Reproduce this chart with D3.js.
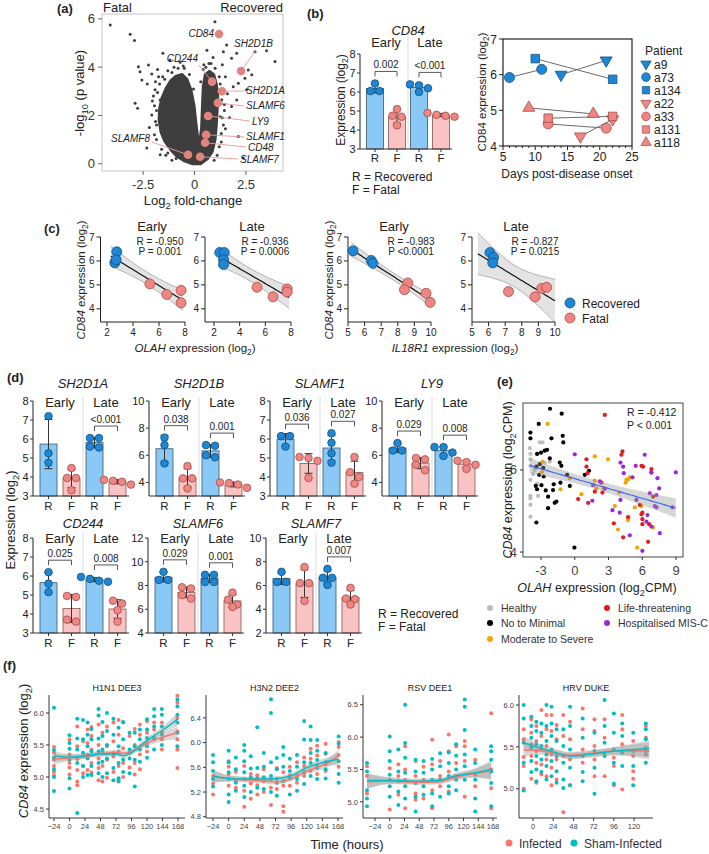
<!DOCTYPE html>
<html><head><meta charset="utf-8">
<script src="https://cdnjs.cloudflare.com/ajax/libs/d3/7.8.5/d3.min.js"></script>
<style>
body{margin:0;background:#fff}
svg text{font-family:"Liberation Sans",Arial,Helvetica,sans-serif}
</style></head><body>
<svg id="fig" width="709" height="854"></svg>
<script>
// ---------------- data ----------------
// (a) volcano: outline of the dense cloud + scattered points
const volCloud = [[-0.1,-0.02],[-0.5,0.1],[-0.85,0.28],[-1.15,0.55],[-1.45,0.9],[-1.65,1.3],[-1.75,1.8],[-1.72,2.3],[-1.6,2.75],[-1.42,3.1],[-1.18,3.45],[-0.9,3.65],[-0.6,3.72],[-0.35,3.5],[-0.15,3.05],[0.0,2.4],[0.1,1.6],[0.22,0.8],[0.32,1.5],[0.36,2.4],[0.4,3.2],[0.5,3.7],[0.72,3.85],[0.95,3.7],[1.08,3.3],[1.15,2.8],[1.12,2.2],[1.08,1.6],[1.02,1.0],[0.88,0.5],[0.65,0.2],[0.3,-0.02]];
const volPts = [[-4.1,5.74],[-3.13,5.36],[-2.92,5.1],[-1.54,4.57],[-2.73,4.02],[-2.24,4.09],[-2.65,3.81],[-2.08,3.72],[-2.56,3.47],[-2.3,3.3],[-2.89,2.51],[-2.77,2.3],[-2.08,2.02],[-1.67,2.64],[-1.92,3.06],[-2.32,0.65],[-1.67,0.37],[-1.9,3.4],[-2.0,2.8],[-1.85,2.2],[-2.2,1.5],[-1.95,1.2],[-1.4,0.35],[-1.1,0.15],[-1.55,3.6],[-1.3,3.85],[-1.0,4.0],[-0.7,4.2],[-0.5,3.95],[-1.8,3.9],[-1.2,4.3],[-1.85,1.6],[-1.6,0.6],
  [-1.85,1.0],[-1.9,1.75],[-1.95,2.4],[-1.8,2.95],[-1.7,3.3],[-1.45,3.5],[-1.1,3.78],[-0.8,3.95],[-0.55,4.05],[-1.3,0.45],[-0.9,0.22],[-2.05,2.6],[-1.75,3.6],[-0.25,3.7],[-0.05,3.1],
  [1.24,6.36],[0.99,5.88],[1.56,4.92],[2.05,4.57],[1.8,4.37],[1.4,4.64],[2.94,4.64],[3.5,4.68],[3.91,4.23],[2.61,3.88],[2.78,3.68],[2.45,3.54],[2.13,3.33],[1.88,3.19],[2.53,3.06],[1.8,2.37],[2.05,2.64],[2.13,1.13],[2.37,0.24],[1.5,3.6],[1.35,4.1],[0.9,4.4],[0.6,4.7],[0.7,4.15],[1.6,2.9],[1.45,2.2],[1.4,1.6],[1.3,0.9],[1.1,0.35],[1.7,1.9],[1.25,3.3],[0.45,4.1],[1.3,2.5],[1.25,1.95],
  [1.3,1.25],[1.35,1.9],[1.32,2.65],[1.35,3.05],[1.2,3.6],[1.0,3.95],[0.8,4.15],[0.55,4.0],[1.2,0.7],[0.95,0.15],[1.45,2.45],[1.5,1.45],[0.42,3.9],[0.3,3.4]];
const slamGenes = ["CD84","SH2D1B","CD244","SH2D1A","SLAMF6","LY9","SLAMF1","CD48","SLAMF7","SLAMF8"];
const slamFC = [1.19,2.26,0.85,1.33,1.14,0.66,0.56,0.51,0.27,-0.32];
const slamLogP = [5.37,3.84,3.4,3.0,2.52,1.98,1.2,0.87,0.29,0.37];

// (b) CD84 bars: R early, F early, R late, F late
const barCats = ["R","F","R","F"];
const cd84Vals = [[6.45,6.05,6.05],[5.1,4.7,4.75,4.25],[6.4,6.35,6.2,6.0],[4.9,4.8,4.75,4.7]];
const cd84Pv = ["0.002","<0.001"];

// (b) patient trajectories
const patients = ["a9","a73","a134","a22","a33","a131","a118"];
const patientGroup = ["R","R","R","F","F","F","F"];
const patientSym = ["down","circle","square","down","circle","square","up"];
const patientDays = [[14,21],[6,11],[10,22],[17,22],[12,21],[12,22],[9,19]];
const patientCD84 = [[6.0,6.4],[5.92,6.15],[6.45,5.87],[4.27,4.75],[4.62,4.5],[4.78,4.83],[5.07,4.9]];

// (c) correlations [x, CD84]
const olahEarlyR = [[2.75,6.38],[2.6,5.92],[2.7,6.05]];
const olahEarlyF = [[5.3,5.04],[6.6,4.6],[7.7,4.77],[7.7,4.25]];
const olahLateR = [[2.45,6.35],[2.8,6.35],[2.75,6.05],[2.75,5.85]];
const olahLateF = [[5.35,4.9],[6.6,4.5],[7.7,4.83],[7.7,4.7]];
const il18EarlyR = [[5.3,6.42],[6.4,6.02],[6.5,5.9]];
const il18EarlyF = [[8.6,5.08],[8.4,4.8],[9.7,4.65],[9.95,4.27]];
const il18LateR = [[6.08,6.35],[6.3,6.15],[6.25,5.92]];
const il18LateF = [[7.2,4.72],[8.8,4.5],[9.2,4.85],[9.5,4.9]];
const corrStats = [["R = -0.950","P = 0.001"],["R = -0.936","P = 0.0006"],["R = -0.983","P <0.0001"],["R = -0.827","P = 0.0215"]];

// (d) SLAM family bars
const sh2d1aVals = [[7.2,5.25,4.75],[4.47,3.95,3.95,3.3],[6.05,6.05,5.6,5.55],[3.85,3.8,3.75,3.6]];
const sh2d1bVals = [[7.3,6.75,5.4],[5.2,4.3,4.3,3.55],[6.7,6.75,6.0,5.85],[4.0,3.95,3.85,3.6]];
const slamf1Vals = [[6.15,6.15,5.6],[5.05,5.0,4.85,3.95],[6.3,5.8,5.25,4.75],[5.05,4.25,4.0,3.65]];
const ly9Vals = [[6.9,6.35,6.35],[5.8,5.7,5.3,4.9],[6.6,6.6,6.2,5.95],[5.6,5.5,5.3,5.0]];
const cd244Vals = [[6.2,5.6,5.15],[4.95,4.9,3.7,3.6],[5.95,5.85,5.75,5.7],[4.7,4.55,4.2,3.6]];
const slamf6Vals = [[9.15,8.47,8.47],[7.85,7.75,7.2,6.9],[8.9,8.9,8.3,8.3],[7.4,6.8,6.4,6.2]];
const slamf7Vals = [[7.15,6.3,6.3],[7.55,6.2,6.2,4.7],[7.4,6.65,6.65,6.05],[5.8,4.9,4.85,4.4]];
const dPvals = [["","<0.001"],["0.038","0.001"],["0.036","0.027"],["0.029","0.008"],["0.025","0.008"],["0.029","0.001"],["","0.007"]];

// (e) COVID cohort [OLAH, CD84]
const eHealthy = [[-4.0,6.53],[-3.94,6.39],[-3.94,6.26],[-3.11,6.67],[-2.87,6.67],[-2.22,6.2],[-3.94,5.76],[-3.94,5.37],[-3.94,5.31],[-3.94,5.15],[-3.94,4.86],[-3.35,5.66],[-3.26,5.37],[-2.67,6.18],[-3.56,6.0],[-3.94,6.1],[-3.7,5.9]];
const eMinimal = [[-2.2,7.49],[-1.16,7.37],[-3.2,7.12],[-3.94,6.91],[-3.94,6.77],[-3.35,6.39],[-2.67,6.47],[-2.46,6.49],[-2.07,6.77],[-3.41,6.08],[-3.11,6.14],[-3.35,5.53],[-3.47,5.61],[-3.17,5.88],[-2.96,5.63],[-2.58,5.5],[-2.37,5.35],[-2.37,5.07],[-2.76,5.84],[-1.78,5.2],[-1.63,5.23],[-1.93,5.51],[-2.22,6.28],[-1.33,6.18],[-1.19,6.1],[-1.07,6.83],[-1.02,6.67],[-1.27,5.69],[-0.44,5.61],[-0.68,5.88],[0.89,5.88],[1.27,5.98],[-0.03,4.11],[-3.41,4.72],[-1.87,5.65],[-3.0,6.42],[-2.8,6.05]];
const eModerate = [[-2.42,7.12],[-2.87,6.2],[-1.27,5.53],[-0.44,5.8],[0.59,5.41],[1.78,6.33],[2.96,6.26],[1.78,5.74],[1.93,5.55],[2.58,5.55],[3.56,5.12],[3.94,5.45],[4.59,5.76],[4.53,5.69],[4.74,5.77],[4.89,5.82],[5.33,5.09],[4.74,4.78],[3.85,4.55],[5.54,4.11],[6.96,4.6],[5.93,5.12],[-2.9,5.95]];
const eLife = [[2.67,7.34],[4.24,6.45],[4.15,6.37],[1.04,6.26],[1.04,6.08],[1.13,5.92],[0.3,5.29],[1.19,5.2],[1.78,5.47],[2.46,5.45],[2.37,5.69],[3.47,4.7],[4.3,4.36],[4.74,4.85],[5.93,6.1],[6.07,6.08],[6.81,6.02],[6.81,5.94],[6.01,4.96],[5.93,4.92],[6.01,4.8],[6.01,4.68],[6.61,4.68],[6.52,4.25],[6.96,5.35],[5.78,5.15]];
const eMisc = [[0,6.38],[1.63,5.63],[1.56,5.25],[2.22,5.72],[2.67,5.54],[3.35,5.02],[4.06,6.18],[4.3,6.08],[4.36,5.92],[4.06,5.27],[4.0,4.96],[4.89,4.41],[5.13,5.82],[5.42,6.1],[6.22,6.37],[6.81,5.94],[7.35,5.8],[7.5,5.55],[6.67,5.43],[7.26,5.39],[7.26,5.09],[7.11,5.12],[6.37,4.74],[6.81,4.62],[6.01,4.03],[7.56,4.46],[8.98,5.94],[8.68,5.09],[5.48,5.27],[6.46,4.9]];
const eGroups = ["Healthy","No to Minimal","Moderate to Severe","Life-threatening","Hospitalised MIS-C"];

// (f) challenge studies: hours, values per time point
const h1n1Times = [-24,0,12,21,28,34,45,51,58,68,76,83,93,101,109,120,131,143,167];
const h1n1Sham = [[6.08,5.42,5.3,5.12,5.0,4.78],[5.65,5.53,5.44,5.27,4.98,4.82],[5.91,5.6,5.43,5.22,4.44],[5.89,5.59,5.38,5.17,5.0],[5.85,5.66,5.48,5.29,5.03],[5.75,5.59,5.4,5.17,5.03],[6.06,5.96,5.6,5.4,5.22,5.06],[5.86,5.64,5.43,5.24,5.0],[6.0,5.72,5.5,5.29,5.06],[5.91,5.66,5.37,5.14,4.95],[5.77,5.48,5.22,4.98,4.93],[5.86,5.59,5.27,5.08],[5.69,5.43,5.29,5.06],[5.69,5.48,5.27,4.85],[5.74,5.59,5.43,5.24],[5.9,5.74,5.61,5.48,5.3],[6.06,5.95,5.79,5.61,5.43],[6.06,5.97,5.79,5.66,5.5],[6.21,6.1,5.97,5.85,5.69,5.48]];
const h1n1Inf = [[5.47,5.38,5.27,5.17,5.08,5.02],[5.58,5.35,5.22,5.15,5.04],[5.79,5.48,5.28,5.11,4.93,4.87],[5.56,5.33,5.17,5.06],[5.74,5.53,5.35,5.11],[5.78,5.64,5.43,5.22,5.07],[5.82,5.5,5.29,5.14,4.95],[5.69,5.4,5.17,4.93],[5.79,5.48,5.27,4.99],[5.85,5.56,5.32,5.08],[5.89,5.66,5.4,5.17,4.95],[5.85,5.45,5.22,5.0],[5.64,5.38,5.15],[5.75,5.5,5.22,5.04],[5.82,5.66,5.35,5.12],[5.87,5.69,5.53,5.4],[5.85,5.74,5.59],[5.85,5.7,5.59,5.43],[6.27,6.16,5.92,5.71,5.59,5.43,5.14]];
const h1n1ShamFit = [[-24,5.33,0.08],[0,5.31,0.05],[24,5.33,0.04],[48,5.36,0.04],[72,5.36,0.04],[84,5.33,0.04],[96,5.38,0.04],[120,5.57,0.05],[144,5.73,0.06],[167,5.9,0.1]];
const h1n1InfFit = [[-24,5.28,0.08],[0,5.3,0.05],[24,5.32,0.04],[48,5.36,0.04],[72,5.38,0.04],[84,5.37,0.04],[96,5.4,0.04],[120,5.53,0.05],[144,5.62,0.06],[167,5.69,0.1]];

const h3n2Times = [-24,0,11,24,34,44,54,65,74,84,94,105,116,126,136,149,169];
const h3n2Sham = [[5.8,5.68,5.54,5.41,5.29],[5.87,5.68,5.52,5.41,5.16,5.04],[5.76,5.57,5.35,5.22],[5.96,5.87,5.7,5.52,5.3,5.12],[5.78,5.58,5.44,5.2],[6.25,5.59,5.42,5.27],[5.83,5.61,5.44,5.25],[6.7,6.48,5.68,5.46,5.2],[5.75,5.57,5.35,5.14],[5.93,5.8,5.61,5.38],[5.74,5.54,5.42,5.16],[5.8,5.61,5.41,5.22],[6.35,6.05,5.68,5.52,5.33],[6.26,6.04,5.83,5.67,5.46],[6.04,5.87,5.72,5.59,5.41],[5.83,5.68,5.57,5.42],[6.1,5.98,5.7,5.49,5.35]];
const h3n2Inf = [[5.46,5.34,5.16],[5.7,5.61,5.49,5.3],[5.53,5.38,5.27],[5.62,5.41,5.22,4.96],[5.49,5.34,5.09],[5.47,5.31,5.16],[5.57,5.38,5.2],[5.41,5.27,4.99],[5.59,5.41,5.25],[5.52,5.3,4.97,4.88],[5.61,5.47,5.3],[5.68,5.46,5.35],[5.76,5.62,5.46],[5.9,5.74,5.54],[5.95,5.79,5.62,5.49],[5.98,5.82,5.65,5.54],[6.01,5.93,5.8,5.61]];
const h3n2ShamFit = [[-24,5.46,0.1],[0,5.42,0.05],[24,5.41,0.04],[49,5.41,0.04],[75,5.42,0.04],[95,5.46,0.04],[121,5.6,0.05],[149,5.69,0.06],[169,5.73,0.1]];
const h3n2InfFit = [[-24,5.45,0.1],[0,5.42,0.05],[24,5.4,0.04],[49,5.38,0.04],[75,5.36,0.04],[95,5.41,0.04],[121,5.54,0.05],[149,5.65,0.06],[169,5.79,0.1]];

const rsvTimes = [-37,0,14,25,42,55,69,82,96,108,122,139,165];
const rsvSham = [[5.6,5.47,5.18,5.05,4.93],[6.01,5.78,5.63,5.42,5.24,5.08],[5.81,5.47,5.32,5.16,4.95],[6.5,5.91,5.68,5.45,5.24,5.05],[5.65,5.47,5.29,5.08,4.85],[5.63,5.45,5.24,5.11],[5.66,5.5,5.34,5.13,4.93],[5.75,5.55,5.34,5.08],[5.76,5.6,5.4,5.24,5.13],[5.89,5.71,5.5,5.34,5.18],[6.58,6.47,6.11,5.73,5.55,5.34],[5.81,5.6,5.34,5.05,4.85],[5.86,5.78,5.65,5.47,5.29,4.93]];
const rsvInf = [[5.55,5.4,5.13],[5.52,5.34,4.88],[5.58,5.4,5.11],[5.86,5.5,5.34,4.9],[5.63,5.4,5.13,5.03],[5.54,5.34,5.05],[5.96,5.58,5.18,4.9],[5.63,5.4,5.24],[6.04,5.78,5.47,5.16],[5.86,5.6,5.4],[5.94,5.86,5.63,5.08],[5.65,5.42,5.24],[6.37,5.5,5.21,4.9]];
const rsvShamFit = [[-37,5.33,0.12],[0,5.33,0.05],[42,5.32,0.04],[80,5.33,0.04],[107,5.4,0.05],[139,5.45,0.07],[165,5.5,0.14]];
const rsvInfFit = [[-37,5.31,0.12],[0,5.32,0.05],[42,5.3,0.04],[80,5.31,0.04],[107,5.38,0.05],[139,5.44,0.07],[165,5.47,0.14]];

const hrvTimes = [-11,-2,4,10,16,22,28,36,44,59,73,85,96,106,119,134];
const hrvSham = [[6.0,5.84,5.55,5.31,4.98],[5.86,5.75,5.61,5.49,5.33,5.2],[5.8,5.69,5.53,5.39,5.23,5.09],[5.78,5.67,5.51,5.35,5.2],[6.0,5.75,5.57,5.41,5.27,5.11],[5.98,5.78,5.63,5.47,5.33,5.15],[5.71,5.57,5.39,5.21,5.07],[5.71,5.51,5.31,5.11,5.01],[5.98,5.75,5.47,5.25,5.04],[5.84,5.61,5.39,5.2,5.09],[5.67,5.45,5.25,4.94],[6.06,5.75,5.55,5.39],[5.9,5.67,5.47,5.31,5.06],[5.78,5.63,5.43,5.27],[5.67,5.45,5.27,5.04],[5.78,5.71,5.59,5.45,5.31]];
const hrvInf = [[5.71,5.59,5.38,5.27,5.0],[5.83,5.67,5.53,5.39,5.12],[5.75,5.57,5.45,5.31,5.07],[5.94,5.63,5.47,5.29,5.17],[5.88,5.71,5.51,5.35,5.15],[5.88,5.69,5.41,5.25,5.04],[5.76,5.59,5.35,5.11],[5.88,5.63,5.39,4.72],[5.8,5.59,5.35,5.04],[5.96,5.71,5.47,5.31],[5.83,5.69,5.51,5.35,5.15],[5.83,5.61,5.43,5.15],[5.37,5.27,5.04],[5.88,5.71,5.53,4.99],[5.57,5.39,5.21,5.12],[5.75,5.61,5.49,5.41]];
const hrvShamFit = [[-11,5.55,0.08],[4,5.5,0.05],[24,5.44,0.04],[44,5.39,0.04],[67,5.41,0.04],[98,5.45,0.05],[138,5.48,0.1]];
const hrvInfFit = [[-11,5.46,0.08],[4,5.46,0.05],[24,5.43,0.04],[44,5.4,0.04],[67,5.42,0.04],[98,5.45,0.05],[138,5.45,0.1]];

// ---------------- colours ----------------
const C = {
  dot: "#3e3e3e", hi: "#e3837d", lead: "#e59a94",
  blue: "#1c87d6", blueS: "#174f7c", red: "#ef8682", redS: "#a44c4c",
  barB: "#8ac9f5", barBS: "#48667f", barR: "#f8c3c2", barRS: "#946464",
  inf: "#F8766D", sham: "#00BFC4"
};
const eCols = ["#bdbdbd","#000000","#f5a300","#e41a1c","#9b28d6"];

const svg = d3.select("#fig");
svg.append("rect").attr("width", 709).attr("height", 854).attr("fill", "#fff");

// text with italic / subscript parts
function txt(g, x, y, parts, o = {}) {
  const size = o.size || 12;
  const t = g.append("text").attr("x", x).attr("y", y).attr("font-size", size)
    .attr("text-anchor", o.anchor || "start").attr("fill", o.fill || "#222");
  if (o.bold) t.attr("font-weight", "bold");
  if (o.rot) t.attr("transform", `rotate(-90,${x},${y})`);
  if (typeof parts === "string") parts = [[parts]];
  let sub = false;
  parts.forEach(([s, k]) => {
    const ts = t.append("tspan").text(s);
    if (k === "i") ts.attr("font-style", "italic");
    if (k === "sub") { ts.attr("font-size", size * 0.72).attr("dy", size * 0.28); sub = true; }
    else if (sub) { ts.attr("dy", -size * 0.28); sub = false; }
  });
  return t;
}
const log2 = (pre, preK) => [[pre, preK], [" expression (log"], ["2", "sub"], [")"]];

// panel letters
[["(a)",57,13],["(b)",307,18],["(c)",44,233],["(d)",7,382],["(e)",497,386],["(f)",3,670]]
  .forEach(([s, x, y]) => txt(svg, x, y, s, { size: 13, bold: true }));

// ================= (a) volcano =================
{
  const g = svg.append("g");
  const x = d3.scaleLinear().domain([-4.5, 4.3]).range([102, 283]);
  const y = d3.scaleLinear().domain([-0.3, 6.2]).range([171, 14]);
  g.append("clipPath").attr("id", "vclip").append("rect").attr("x", 102).attr("y", 14).attr("width", 181).attr("height", 157);
  const inner = g.append("g").attr("clip-path", "url(#vclip)");
  inner.append("path").datum(volCloud)
    .attr("d", d3.line().x(d => x(d[0])).y(d => y(d[1])).curve(d3.curveLinearClosed))
    .attr("fill", C.dot).attr("stroke", C.dot).attr("stroke-width", 2).attr("stroke-linejoin", "round");
  inner.selectAll(".vp").data(volPts).join("circle")
    .attr("cx", d => x(d[0])).attr("cy", d => y(d[1])).attr("r", 1.5).attr("fill", C.dot);
  g.append("rect").attr("x", 102).attr("y", 14).attr("width", 181).attr("height", 157)
    .attr("fill", "none").attr("stroke", "#c4c4c4");
  [0, 2, 4, 6].forEach(v => {
    g.append("line").attr("x1", 98).attr("x2", 102).attr("y1", y(v)).attr("y2", y(v)).attr("stroke", "#666");
    txt(g, 95, y(v) + 4.5, String(v), { size: 13, anchor: "end", fill: "#333" });
  });
  [-2.5, 0, 2.5].forEach(v => {
    g.append("line").attr("x1", x(v)).attr("x2", x(v)).attr("y1", 171).attr("y2", 175).attr("stroke", "#666");
    txt(g, x(v), 189, String(v), { size: 13, anchor: "middle", fill: "#333" });
  });
  txt(g, 103, 12, "Fatal", { size: 13 });
  txt(g, 283, 12, "Recovered", { size: 13, anchor: "end" });
  txt(g, 84, 93, [["-log"], ["10", "sub"], [" (p value)"]], { size: 13, anchor: "middle", rot: true });
  txt(g, 193, 205, [["Log"], ["2", "sub"], [" fold-change"]], { size: 13, anchor: "middle" });
  // label placement: [textX, baseline, anchor, leaderX, leaderY]
  const labPos = [[214,37,"end",null,null],[234,47,"start",256,50],[198,62,"end",199,65],[246,94,"start",244,91],
    [246,109,"start",244,106],[252,125,"start",250,121],[246,140,"start",244,137],[248,151,"start",246,147],
    [240,163,"start",238,159],[150,142,"end",152,142]];
  slamGenes.forEach((gname, i) => {
    const p = labPos[i];
    if (p[3] !== null) g.append("line").attr("x1", p[3]).attr("y1", p[4])
      .attr("x2", x(slamFC[i])).attr("y2", y(slamLogP[i])).attr("stroke", C.lead).attr("stroke-width", 0.9);
  });
  slamGenes.forEach((gname, i) => {
    g.append("circle").attr("cx", x(slamFC[i])).attr("cy", y(slamLogP[i])).attr("r", 4.3).attr("fill", C.hi);
    const p = labPos[i];
    txt(g, p[0], p[1], [[gname, "i"]], { size: 10, anchor: p[2] });
  });
}

// ================= bar chart helper (b, d) =================
function spread(vals, y, c) {
  const pts = vals.map(v => ({ v, py: y(v) })).sort((a, b) => a.py - b.py);
  const clusters = [];
  pts.forEach(p => {
    const last = clusters[clusters.length - 1];
    if (last && Math.abs(last[0].py - p.py) < 5.5) last.push(p); else clusters.push([p]);
  });
  const out = [];
  clusters.forEach(cl => cl.forEach((p, i) => out.push([c + (i - (cl.length - 1) / 2) * 9, p.py])));
  return out;
}
function barChart(o) {
  const g = svg.append("g");
  const y = d3.scaleLinear().domain(o.dom).range([o.bot, o.top]);
  const x = d3.scalePoint().domain([0, 1, 2, 3]).range([o.ax + 4, o.ax + o.w + 4]).padding(0.5);
  const sep = (x(1) + x(2)) / 2;
  g.append("line").attr("x1", sep).attr("x2", sep).attr("y1", o.elY - 10).attr("y2", o.bot).attr("stroke", "#dcdcdc");
  o.vals.forEach((vals, i) => {
    const m = d3.mean(vals), sd = d3.deviation(vals), c = x(i), isR = i % 2 === 0;
    g.append("rect").attr("x", c - 8.5).attr("width", 17).attr("y", y(m)).attr("height", o.bot - y(m))
      .attr("fill", isR ? C.barB : C.barR).attr("stroke", isR ? C.barBS : C.barRS).attr("stroke-width", 0.9);
    g.append("line").attr("x1", c).attr("x2", c).attr("y1", y(m - sd)).attr("y2", y(m + sd)).attr("stroke", "#333");
    [m - sd, m + sd].forEach(v => g.append("line").attr("x1", c - 4).attr("x2", c + 4).attr("y1", y(v)).attr("y2", y(v)).attr("stroke", "#333"));
    spread(vals, y, c).forEach(([cx, cy]) => g.append("circle").attr("cx", cx).attr("cy", cy).attr("r", 3.8)
      .attr("fill", isR ? C.blue : C.red).attr("stroke", isR ? C.blueS : C.redS).attr("stroke-width", 0.8));
    g.append("line").attr("x1", c).attr("x2", c).attr("y1", o.bot).attr("y2", o.bot + 3).attr("stroke", "#333");
    txt(g, c, o.rfY, barCats[i], { size: 11.5, anchor: "middle" });
  });
  // significance brackets
  [0, 1].forEach(k => {
    if (!o.pv[k]) return;
    const a = o.vals[2 * k], b = o.vals[2 * k + 1];
    const tops = [a, b].map(v => Math.min(y(d3.max(v)) - 4, y(d3.mean(v) + d3.deviation(v))));
    const yb = Math.min(...tops) - 8;
    g.append("path").attr("d", `M${x(2 * k)},${yb + 5}V${yb}H${x(2 * k + 1)}V${yb + 5}`)
      .attr("fill", "none").attr("stroke", "#444").attr("stroke-width", 0.9);
    txt(g, (x(2 * k) + x(2 * k + 1)) / 2, yb - 3, o.pv[k], { size: 10, anchor: "middle" });
  });
  // axes
  g.append("line").attr("x1", o.ax).attr("x2", o.ax).attr("y1", o.top).attr("y2", o.bot).attr("stroke", "#333").attr("stroke-width", 1.1);
  g.append("line").attr("x1", o.ax).attr("x2", o.ax + o.w + 4).attr("y1", o.bot).attr("y2", o.bot).attr("stroke", "#333").attr("stroke-width", 1.1);
  o.ticks.forEach(v => {
    g.append("line").attr("x1", o.ax - 3).attr("x2", o.ax).attr("y1", y(v)).attr("y2", y(v)).attr("stroke", "#333");
    txt(g, o.ax - 4.5, y(v) + 4, String(v), { size: 11, anchor: "end" });
  });
  txt(g, (x(0) + x(3)) / 2, o.titleY, [[o.title, "i"]], { size: 13, anchor: "middle" });
  txt(g, (x(0) + x(1)) / 2, o.elY, "Early", { size: 13, anchor: "middle" });
  txt(g, (x(2) + x(3)) / 2, o.elY, "Late", { size: 13, anchor: "middle" });
}

// ================= (b) =================
barChart({ vals: cd84Vals, pv: cd84Pv, title: "CD84", ax: 360, w: 88, top: 54, bot: 149, dom: [3, 8],
  ticks: [3, 4, 5, 6, 7, 8], titleY: 35, elY: 47, rfY: 162 });
txt(svg, 345, 100, [["Expression (log"], ["2", "sub"], [")"]], { size: 12, anchor: "middle", rot: true });
txt(svg, 352, 181, "R = Recovered", { size: 12 });
txt(svg, 352, 194, "F = Fatal", { size: 12 });

{
  const g = svg.append("g");
  const x = d3.scaleLinear().domain([5, 25]).range([503, 632]);
  const y = d3.scaleLinear().domain([4, 7]).range([146, 39]);
  const typeOf = s => s === "circle" ? d3.symbolCircle : s === "square" ? d3.symbolSquare : d3.symbolTriangle;
  const sizeOf = s => s === "square" ? 72 : s === "circle" ? 78 : 62;
  const rotOf = s => s === "down" ? " rotate(180)" : "";
  patients.forEach((p, i) => {
    g.append("line").attr("x1", x(patientDays[i][0])).attr("y1", y(patientCD84[i][0]))
      .attr("x2", x(patientDays[i][1])).attr("y2", y(patientCD84[i][1])).attr("stroke", "#6b6b6b").attr("stroke-width", 1);
  });
  patients.forEach((p, i) => {
    const isR = patientGroup[i] === "R", s = patientSym[i];
    [0, 1].forEach(k => g.append("path").attr("d", d3.symbol().type(typeOf(s)).size(sizeOf(s))())
      .attr("transform", `translate(${x(patientDays[i][k])},${y(patientCD84[i][k])})${rotOf(s)}`)
      .attr("fill", isR ? C.blue : C.red).attr("stroke", isR ? C.blueS : C.redS).attr("stroke-width", 0.8));
    const ly = 64 + i * 13.1;
    g.append("path").attr("d", d3.symbol().type(typeOf(s)).size(sizeOf(s) * 0.75)())
      .attr("transform", `translate(646,${ly})${rotOf(s)}`)
      .attr("fill", isR ? C.blue : C.red).attr("stroke", isR ? C.blueS : C.redS).attr("stroke-width", 0.7);
    txt(g, 654, ly + 4.5, p, { size: 12 });
  });
  txt(g, 645, 55, "Patient", { size: 12 });
  g.append("rect").attr("x", 503).attr("y", 39).attr("width", 129).attr("height", 107)
    .attr("fill", "none").attr("stroke", "#222").attr("stroke-width", 1.2);
  d3.range(5, 26).forEach(v => g.append("line").attr("x1", x(v)).attr("x2", x(v)).attr("y1", 146)
    .attr("y2", v % 5 === 0 ? 150 : 148).attr("stroke", "#222"));
  [5, 10, 15, 20, 25].forEach(v => txt(g, x(v), 161, String(v), { size: 12, anchor: "middle" }));
  [4, 5, 6, 7].forEach(v => {
    g.append("line").attr("x1", 499).attr("x2", 503).attr("y1", y(v)).attr("y2", y(v)).attr("stroke", "#222");
    txt(g, 497, y(v) + 4.5, String(v), { size: 12, anchor: "end" });
  });
  txt(g, 486, 92, [["CD84"], [" expression (log"], ["2", "sub"], [")"]], { size: 11.5, anchor: "middle", rot: true });
  txt(g, 567, 178, "Days post-disease onset", { size: 12, anchor: "middle" });
}

// ================= (c) =================
function regress(pts) {
  const n = pts.length, mx = d3.mean(pts, d => d[0]), my = d3.mean(pts, d => d[1]);
  let sxx = 0, sxy = 0;
  pts.forEach(([a, b]) => { sxx += (a - mx) ** 2; sxy += (a - mx) * (b - my); });
  const b = sxy / sxx, a = my - b * mx;
  let sse = 0;
  pts.forEach(([u, v]) => { sse += (v - a - b * u) ** 2; });
  return { a, b, mx, sxx, n, s: Math.sqrt(sse / (n - 2)) };
}
function bandPts(f, t, x0, x1) {
  return d3.range(41).map(i => {
    const u = x0 + (x1 - x0) * i / 40, yh = f.a + f.b * u;
    const se = f.s * Math.sqrt(1 / f.n + (u - f.mx) ** 2 / f.sxx);
    return [u, yh, yh - t * se, yh + t * se];
  });
}
function corrPlot(o) {
  const g = svg.append("g");
  const x = d3.scaleLinear().domain(o.xd).range(o.xr);
  const y = d3.scaleLinear().domain([3.45, 7]).range([322, 237]);
  const all = o.R.concat(o.F), f = regress(all);
  const tq = { 5: 2.571, 6: 2.447 }[all.length - 2];
  const bd = bandPts(f, tq, o.span[0], o.span[1]);
  g.append("path").datum(bd).attr("d", d3.area().x(d => x(d[0])).y0(d => y(d[2])).y1(d => y(d[3])))
    .attr("fill", "#e3e3e3");
  [2, 3].forEach(k => g.append("path").datum(bd).attr("d", d3.line().x(d => x(d[0])).y(d => y(d[k])))
    .attr("fill", "none").attr("stroke", "#8a8a8a").attr("stroke-width", 0.6));
  g.append("path").datum(bd).attr("d", d3.line().x(d => x(d[0])).y(d => y(d[1])))
    .attr("fill", "none").attr("stroke", "#111").attr("stroke-width", 1.2);
  g.append("line").attr("x1", o.xr[0]).attr("x2", o.xr[0]).attr("y1", 237).attr("y2", 322).attr("stroke", "#222");
  g.append("line").attr("x1", o.xr[0]).attr("x2", o.xr[1]).attr("y1", 322).attr("y2", 322).attr("stroke", "#222");
  [4, 5, 6, 7].forEach(v => {
    g.append("line").attr("x1", o.xr[0] - 4).attr("x2", o.xr[0]).attr("y1", y(v)).attr("y2", y(v)).attr("stroke", "#222");
    txt(g, o.xr[0] - 6, y(v) + 3.5, String(v), { size: 10, anchor: "end" });
  });
  o.xt.forEach(v => {
    g.append("line").attr("x1", x(v)).attr("x2", x(v)).attr("y1", 322).attr("y2", 326).attr("stroke", "#222");
    txt(g, x(v), 336, String(v), { size: 10, anchor: "middle" });
  });
  [[o.R, C.blue, C.blueS], [o.F, C.red, C.redS]].forEach(([pts, fc, sc]) =>
    pts.forEach(p => g.append("circle").attr("cx", x(p[0])).attr("cy", y(p[1])).attr("r", 5)
      .attr("fill", fc).attr("stroke", sc).attr("stroke-width", 0.8)));
  txt(g, o.tx, 231, o.title, { size: 13, anchor: "middle" });
  txt(g, o.sx, 245, o.stat[0], { size: 10, anchor: "middle" });
  txt(g, o.sx, 255, o.stat[1], { size: 10, anchor: "middle" });
}
corrPlot({ R: olahEarlyR, F: olahEarlyF, xd: [1.5, 8], xr: [100.5, 185], xt: [2, 4, 6, 8], span: [2.3, 7.85], title: "Early", tx: 152, sx: 160, stat: corrStats[0] });
corrPlot({ R: olahLateR, F: olahLateF, xd: [1.3, 8], xr: [205, 291], xt: [2, 4, 6, 8], span: [2.3, 7.85], title: "Late", tx: 252, sx: 265, stat: corrStats[1] });
corrPlot({ R: il18EarlyR, F: il18EarlyF, xd: [5, 10], xr: [348, 431], xt: [5, 6, 7, 8, 9, 10], span: [5.2, 10], title: "Early", tx: 394, sx: 411, stat: corrStats[2] });
corrPlot({ R: il18LateR, F: il18LateF, xd: [5, 10], xr: [472, 555], xt: [5, 6, 7, 8, 9, 10], span: [5.35, 10], title: "Late", tx: 516, sx: 535, stat: corrStats[3] });
txt(svg, 85, 280, log2("CD84", "i"), { size: 11.5, anchor: "middle", rot: true });
txt(svg, 333, 280, log2("CD84", "i"), { size: 11.5, anchor: "middle", rot: true });
txt(svg, 195, 352, log2("OLAH", "i"), { size: 11.5, anchor: "middle" });
txt(svg, 455, 352, log2("IL18R1", "i"), { size: 11.5, anchor: "middle" });
[["Recovered", C.blue, C.blueS, 303], ["Fatal", C.red, C.redS, 318]].forEach(([s, fc, sc, yy]) => {
  svg.append("circle").attr("cx", 570).attr("cy", yy).attr("r", 5).attr("fill", fc).attr("stroke", sc).attr("stroke-width", 0.8);
  txt(svg, 582, yy + 4.5, s, { size: 12 });
});

// ================= (d) =================
const dLayout = [
  { vals: sh2d1aVals, title: "SH2D1A", ax: 33, dom: [3, 8], ticks: [3, 4, 5, 6, 7, 8], row: 0 },
  { vals: sh2d1bVals, title: "SH2D1B", ax: 149, dom: [3, 10], ticks: [4, 6, 8, 10], row: 0 },
  { vals: slamf1Vals, title: "SLAMF1", ax: 270, dom: [3, 8], ticks: [3, 4, 5, 6, 7, 8], row: 0 },
  { vals: ly9Vals, title: "LY9", ax: 382, dom: [3, 10], ticks: [4, 6, 8, 10], row: 0 },
  { vals: cd244Vals, title: "CD244", ax: 33, dom: [3, 8], ticks: [3, 4, 5, 6, 7, 8], row: 1 },
  { vals: slamf6Vals, title: "SLAMF6", ax: 148, dom: [4, 12], ticks: [4, 6, 8, 10, 12], row: 1 },
  { vals: slamf7Vals, title: "SLAMF7", ax: 266, dom: [2, 10], ticks: [2, 4, 6, 8, 10], row: 1 }
];
const dRows = [{ top: 401, bot: 496, titleY: 388, elY: 407, rfY: 510 }, { top: 538, bot: 633, titleY: 528, elY: 543, rfY: 647 }];
dLayout.forEach((d, i) => barChart(Object.assign({ pv: dPvals[i], w: 92 }, d, dRows[d.row])));
txt(svg, 15, 520, [["Expression (log"], ["2", "sub"], [")"]], { size: 13, anchor: "middle", rot: true });
txt(svg, 378, 618, "R = Recovered", { size: 12 });
txt(svg, 378, 631, "F = Fatal", { size: 12 });

// ================= (e) =================
{
  const g = svg.append("g");
  const x = d3.scaleLinear().domain([-4.6, 9.62]).range([523, 683]);
  const y = d3.scaleLinear().domain([3.88, 7.63]).range([557, 403]);
  const sets = [eHealthy, eMinimal, eModerate, eLife, eMisc];
  sets.forEach((s, k) => s.forEach(p => g.append("circle").attr("cx", x(p[0])).attr("cy", y(p[1])).attr("r", 2.1).attr("fill", eCols[k])));
  const all = sets.flat(), f = regress(all);
  const bd = bandPts(f, 1.98, d3.min(all, d => d[0]), d3.max(all, d => d[0]));
  g.append("path").datum(bd).attr("d", d3.area().x(d => x(d[0])).y0(d => y(d[2])).y1(d => y(d[3])))
    .attr("fill", "#999").attr("opacity", 0.4);
  g.append("path").datum(bd).attr("d", d3.line().x(d => x(d[0])).y(d => y(d[1])))
    .attr("fill", "none").attr("stroke", "#3366FF").attr("stroke-width", 1.1);
  g.append("rect").attr("x", 523).attr("y", 403).attr("width", 160).attr("height", 154)
    .attr("fill", "none").attr("stroke", "#333").attr("stroke-width", 0.9);
  [-3, 0, 3, 6, 9].forEach(v => {
    g.append("line").attr("x1", x(v)).attr("x2", x(v)).attr("y1", 557).attr("y2", 560).attr("stroke", "#333");
    txt(g, x(v), 575, String(v), { size: 13, anchor: "middle", fill: "#444" });
  });
  [4, 6].forEach(v => {
    g.append("line").attr("x1", 520).attr("x2", 523).attr("y1", y(v)).attr("y2", y(v)).attr("stroke", "#333");
    txt(g, 517, y(v) + 4.5, String(v), { size: 13, anchor: "end", fill: "#444" });
  });
  txt(g, 627, 416, "R = -0.412", { size: 10.5 });
  txt(g, 627, 429, "P < 0.001", { size: 10.5 });
  txt(g, 512, 480, [["CD84", "i"], [" expression (log"], ["2", "sub"], ["CPM)"]], { size: 12.5, anchor: "middle", rot: true });
  txt(g, 597, 592, [["OLAH", "i"], [" expression (log"], ["2", "sub"], ["CPM)"]], { size: 12.5, anchor: "middle" });
  const legPos = [[490, 608], [490, 623], [490, 639], [607, 608], [607, 623]];
  eGroups.forEach((s, k) => {
    g.append("circle").attr("cx", legPos[k][0]).attr("cy", legPos[k][1]).attr("r", 3).attr("fill", eCols[k]);
    txt(g, legPos[k][0] + 11, legPos[k][1] + 4, s, { size: 10.5, fill: "#333" });
  });
}

// ================= (f) =================
function timePlot(o) {
  const g = svg.append("g");
  const x = d3.scaleLinear().domain(o.xd).range(o.xr);
  const y = d3.scaleLinear().domain(o.yd).range([818, 695]);
  [[o.inf, C.inf], [o.sham, C.sham]].forEach(([cols, c]) =>
    cols.forEach((vals, i) => vals.forEach(v => g.append("circle").attr("cx", x(o.times[i])).attr("cy", y(v)).attr("r", 2).attr("fill", c))));
  [o.infFit, o.shamFit].forEach(fit => {
    g.append("path").datum(fit).attr("d", d3.area().x(d => x(d[0])).y0(d => y(d[1] - d[2])).y1(d => y(d[1] + d[2])).curve(d3.curveMonotoneX))
      .attr("fill", "#9a9a9a").attr("opacity", 0.4);
  });
  [[o.infFit, C.inf], [o.shamFit, C.sham]].forEach(([fit, c]) => {
    g.append("path").datum(fit).attr("d", d3.line().x(d => x(d[0])).y(d => y(d[1])).curve(d3.curveMonotoneX))
      .attr("fill", "none").attr("stroke", c).attr("stroke-width", 1.4);
  });
  g.append("line").attr("x1", o.xr[0]).attr("x2", o.xr[0]).attr("y1", 695).attr("y2", 818).attr("stroke", "#222").attr("stroke-width", 0.9);
  g.append("line").attr("x1", o.xr[0]).attr("x2", o.xr[1]).attr("y1", 818).attr("y2", 818).attr("stroke", "#222").attr("stroke-width", 0.9);
  o.yt.forEach(v => {
    g.append("line").attr("x1", o.xr[0] - 3).attr("x2", o.xr[0]).attr("y1", y(v)).attr("y2", y(v)).attr("stroke", "#333");
    txt(g, o.xr[0] - 5, y(v) + 2.7, v.toFixed(1), { size: 7.5, anchor: "end", fill: "#444" });
  });
  o.xt.forEach(v => {
    g.append("line").attr("x1", x(v)).attr("x2", x(v)).attr("y1", 818).attr("y2", 821).attr("stroke", "#333");
    txt(g, x(v), 829, String(v).replace("-", "\u2212"), { size: 7.5, anchor: "middle", fill: "#444" });
  });
  txt(g, (o.xr[0] + o.xr[1]) / 2, 691, o.title, { size: 9, anchor: "middle" });
}
const hTicks = [-24, 0, 24, 48, 72, 96, 120, 144, 168];
timePlot({ title: "H1N1 DEE3", times: h1n1Times, inf: h1n1Inf, sham: h1n1Sham, infFit: h1n1InfFit, shamFit: h1n1ShamFit,
  xd: [-31.7, 178.8], xr: [49, 185], yd: [4.36, 6.28], yt: [4.5, 5.0, 5.5, 6.0], xt: hTicks });
timePlot({ title: "H3N2 DEE2", times: h3n2Times, inf: h3n2Inf, sham: h3n2Sham, infFit: h3n2InfFit, shamFit: h3n2ShamFit,
  xd: [-34.8, 175.7], xr: [206, 343], yd: [4.78, 6.77], yt: [4.8, 5.2, 5.6, 6.0, 6.4], xt: hTicks });
timePlot({ title: "RSV DEE1", times: rsvTimes, inf: rsvInf, sham: rsvSham, infFit: rsvInfFit, shamFit: rsvShamFit,
  xd: [-43.5, 174.5], xr: [363, 497], yd: [4.75, 6.65], yt: [5.0, 5.5, 6.0, 6.5], xt: hTicks });
timePlot({ title: "HRV DUKE", times: hrvTimes, inf: hrvInf, sham: hrvSham, infFit: hrvInfFit, shamFit: hrvShamFit,
  xd: [-16.6, 142.5], xr: [519, 653], yd: [4.65, 6.12], yt: [5.0, 5.5, 6.0], xt: [0, 24, 48, 72, 96, 120] });
txt(svg, 28, 751, log2("CD84", "i"), { size: 13, anchor: "middle", rot: true });
txt(svg, 347, 849, "Time (hours)", { size: 13, anchor: "middle" });
[["Infected", C.inf, 509], ["Sham-Infected", C.sham, 574]].forEach(([s, c, xx]) => {
  svg.append("circle").attr("cx", xx).attr("cy", 843).attr("r", 3.5).attr("fill", c);
  txt(svg, xx + 10, 847.5, s, { size: 12, fill: "#333" });
});
</script></body></html>
